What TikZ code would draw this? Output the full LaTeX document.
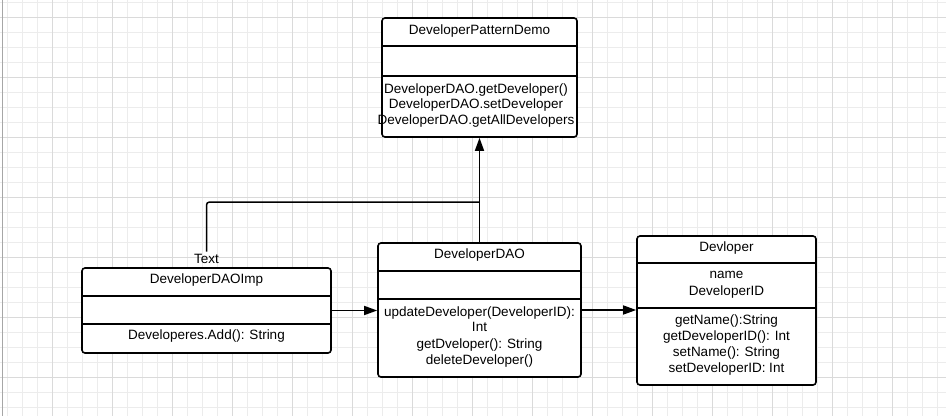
\documentclass[tikz,border=0pt]{standalone}
\usepackage{fontspec}
\setmainfont{Liberation Sans}
\usepackage{xcolor}
\usetikzlibrary{arrows.meta,positioning,calc}
\definecolor{gridminor}{HTML}{ECECEC}
\definecolor{gridmajor}{HTML}{DADADA}

\begin{document}
\begin{tikzpicture}[x=1pt, y=-1pt,
    umlbox/.style={draw, line width=1.6pt, rounded corners=3pt, fill=white, inner sep=0pt},
    sep/.style={line width=1.6pt},
    txt/.style={inner sep=0pt, align=center, font=\fontsize{13.5}{15}\selectfont},
    link/.style={line width=1.5pt, rounded corners=3pt},
    arr/.style={link, -{Triangle[length=13pt,width=9pt]}}]
    % 背景网格
    \useasboundingbox (0,0) rectangle (946,416);
    \fill[white] (0,0) rectangle (946,416);
    \foreach \x in {7,22,...,946} {
        \draw[gridminor, line width=1pt] (\x,0) -- (\x,416);
    }
    \foreach \y in {2,17,...,416} {
        \draw[gridminor, line width=1pt] (0,\y) -- (946,\y);
    }
    \foreach \x in {52,112,...,946} {
        \draw[gridmajor, line width=1pt] (\x,0) -- (\x,416);
    }
    \foreach \y in {17,77,...,416} {
        \draw[gridmajor, line width=1pt] (0,\y) -- (946,\y);
    }
    \draw[gray!70, line width=1pt] (2,0) -- (2,416);

    % 类框
    \node[umlbox, minimum width=195pt, minimum height=119pt] (demo) at (479.5,77.5) {};
    \node[umlbox, minimum width=249pt, minimum height=85pt] (imp) at (206.5,310.5) {};
    \node[umlbox, minimum width=203pt, minimum height=134pt] (dao) at (479.5,310) {};
    \node[umlbox, minimum width=179pt, minimum height=149pt] (dev) at (726.5,310.5) {};

    % 分隔线
    \draw[sep] (demo.west |- 0,46) -- (demo.east |- 0,46);
    \draw[sep] (demo.west |- 0,76) -- (demo.east |- 0,76);
    \draw[sep] (imp.west |- 0,296) -- (imp.east |- 0,296);
    \draw[sep] (imp.west |- 0,324) -- (imp.east |- 0,324);
    \draw[sep] (dao.west |- 0,271) -- (dao.east |- 0,271);
    \draw[sep] (dao.west |- 0,299) -- (dao.east |- 0,299);
    \draw[sep] (dev.west |- 0,263) -- (dev.east |- 0,263);
    \draw[sep] (dev.west |- 0,308) -- (dev.east |- 0,308);

    % 文字
    \node[txt] (demoname) at (479.5,31) {DeveloperPatternDemo};
    \node[txt, font=\fontsize{13.5}{15.5}\selectfont] (demoops) at (476,105.5)
        {DeveloperDAO.getDeveloper()\\DeveloperDAO.setDeveloper\\DeveloperDAO.getAllDevelopers};
    \node[txt] (impname) at (206.5,280.5) {DeveloperDAOImp};
    \node[txt] (impops) at (206.5,336.5) {Developeres.Add(): String};
    \node[txt] (daoname) at (479.5,255.5) {DeveloperDAO};
    \node[txt] (daoops) at (479.5,337.5)
        {updateDeveloper(DeveloperID):\\Int\\[1.5pt]getDveloper(): String\\[1.5pt]deleteDeveloper()};
    \node[txt] (devname) at (726.5,248.5) {Devloper};
    \node[txt, font=\fontsize{13.5}{16.5}\selectfont] (devattr) at (726.5,285) {name\\DeveloperID};
    \node[txt, font=\fontsize{13.5}{16}\selectfont] (devops) at (726.5,345)
        {getName():String\\getDeveloperID(): Int\\setName(): String\\setDeveloperID: Int};
    \node[txt] (lbl) at (206.5,258.5) {Text};

    % 连线
    \coordinate (join) at (479.5,202);
    \draw[arr] (imp.east) -- (dao.west |- imp.east);
    \draw[arr] (dao.east) -- (dev.west |- dao.east);
    \draw[arr] (dao.north) -- (demo.south);
    \draw[link] ([yshift=2pt]lbl.north) |- (join);
\end{tikzpicture}
\end{document}
